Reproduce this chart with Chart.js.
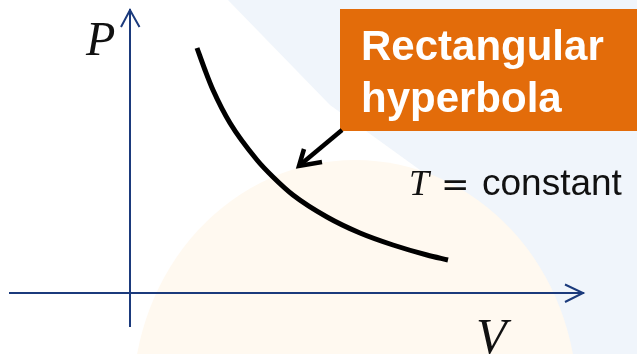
<!DOCTYPE html>
<html><head><meta charset="utf-8">
<script src="https://cdn.jsdelivr.net/npm/chart.js@4.4.0/dist/chart.umd.min.js"></script>
<style>html,body{margin:0;padding:0;background:#fff;overflow:hidden}canvas{display:block}</style>
</head><body>
<canvas id="c" width="637" height="354"></canvas>
<script>
// Isotherm (V, P in arbitrary units, origin at axis crossing)
const volume   = [6.7, 7.5, 8.3, 10.0, 12.7, 14.3, 16.3, 19.7, 23.0, 26.3, 29.7, 31.8];
const pressure = [24.5, 22.3, 20.3, 17.0, 13.3, 11.6, 9.8, 7.6, 6.0, 4.8, 3.8, 3.3];
const axisNames = ['V', 'P'];
const boxLines = ['Rectangular', 'hyperbola'];
const conditionParts = ['T', '=', 'constant'];

const axisColor = '#1B3A7C';
const boxColor = '#E36C0A';

const backgroundPlugin = {
  id: 'bg',
  beforeDraw(chart) {
    const ctx = chart.ctx, w = chart.width, h = chart.height;
    ctx.save();
    ctx.fillStyle = '#ffffff';
    ctx.fillRect(0, 0, w, h);
    ctx.fillStyle = '#F0F5FB';
    ctx.beginPath();
    ctx.moveTo(228, 0); ctx.lineTo(w, 0); ctx.lineTo(w, h); ctx.lineTo(560, h);
    ctx.lineTo(420, 170); ctx.lineTo(330, 105); ctx.closePath(); ctx.fill();
    ctx.fillStyle = '#FFF9F0';
    ctx.beginPath();
    ctx.ellipse(355, 400, 222, 240, 0, 0, Math.PI * 2);
    ctx.fill();
    ctx.restore();
  }
};

const annotationPlugin = {
  id: 'anno',
  afterDraw(chart) {
    const ctx = chart.ctx;
    const xs = chart.scales.x, ys = chart.scales.y;
    const ox = xs.getPixelForValue(0), oy = ys.getPixelForValue(0);
    ctx.save();
    // axis arrowheads
    ctx.strokeStyle = axisColor; ctx.lineWidth = 2; ctx.lineJoin = 'miter';
    ctx.beginPath();
    ctx.moveTo(ox - 9, ys.top + 17); ctx.lineTo(ox, ys.top); ctx.lineTo(ox + 9.5, ys.top + 17);
    ctx.stroke();
    ctx.beginPath();
    ctx.moveTo(xs.right - 18, oy - 8.5); ctx.lineTo(xs.right, oy); ctx.lineTo(xs.right - 18, oy + 9);
    ctx.stroke();

    // axis names
    ctx.fillStyle = '#111';
    ctx.textBaseline = 'alphabetic'; ctx.textAlign = 'left';
    ctx.font = 'italic 48px "Liberation Serif"';
    ctx.fillText(axisNames[1], 86, 55);
    ctx.font = 'italic 50px "Liberation Serif"';
    ctx.fillText(axisNames[0], 476, 353);

    // orange box
    ctx.fillStyle = boxColor;
    ctx.fillRect(340, 9, 297, 122);
    ctx.fillStyle = '#ffffff';
    ctx.font = 'bold 42px "Liberation Sans"';
    ctx.fillText(boxLines[0], 361, 60);
    ctx.fillText(boxLines[1], 361, 112);

    // callout arrow
    ctx.strokeStyle = '#000'; ctx.lineWidth = 4.5; ctx.lineCap = 'butt'; ctx.lineJoin = 'miter';
    ctx.beginPath(); ctx.moveTo(342, 130); ctx.lineTo(300, 165); ctx.stroke();
    ctx.beginPath(); ctx.moveTo(304, 149); ctx.lineTo(299, 166); ctx.lineTo(322, 162); ctx.stroke();

    // condition text
    ctx.fillStyle = '#111';
    ctx.font = 'italic 36px "Liberation Serif"';
    ctx.fillText(conditionParts[0], 409, 195);
    ctx.font = '34px "DejaVu Sans"';
    ctx.fillText(conditionParts[1], 441, 196);
    ctx.font = '37px "Liberation Sans"';
    ctx.fillText(conditionParts[2], 482, 195);
    ctx.restore();
  }
};

new Chart(document.getElementById('c').getContext('2d'), {
  type: 'scatter',
  data: {
    datasets: [{
      data: volume.map((v, i) => ({ x: v, y: pressure[i] })),
      showLine: true,
      borderColor: '#000',
      borderWidth: 5,
      pointRadius: 0,
      cubicInterpolationMode: 'monotone',
      fill: false
    }]
  },
  options: {
    responsive: false,
    animation: false,
    events: [],
    layout: { padding: { left: 10, top: 10, right: 54, bottom: 28 } },
    plugins: { legend: { display: false }, tooltip: { enabled: false } },
    scales: {
      x: {
        type: 'linear', min: -12, max: 45.3, position: { y: 0 },
        ticks: { display: false },
        grid: { display: true, color: 'rgba(0,0,0,0)', drawTicks: false },
        border: { display: true, color: axisColor, width: 2 }
      },
      y: {
        type: 'linear', min: -3.3, max: 28.3, position: { x: 0 },
        ticks: { display: false },
        grid: { display: true, color: 'rgba(0,0,0,0)', drawTicks: false },
        border: { display: true, color: axisColor, width: 2 }
      }
    }
  },
  plugins: [backgroundPlugin, annotationPlugin]
});
</script>
</body></html>
